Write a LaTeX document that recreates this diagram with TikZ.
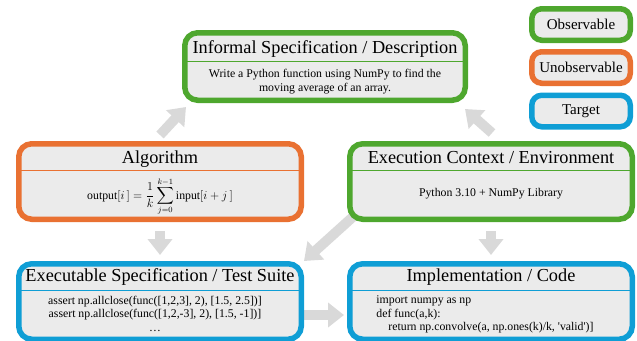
\documentclass[tikz,border=0pt]{standalone}
\usepackage{fontspec}
\setmainfont{Liberation Serif}
\usepackage{amsmath}
\usetikzlibrary{positioning,calc,arrows.meta,backgrounds}

\definecolor{obsgreen}{HTML}{4EA72E}
\definecolor{unobsorange}{HTML}{E97132}
\definecolor{tgtblue}{HTML}{0F9ED5}
\definecolor{boxfill}{HTML}{EBEBEB}
\definecolor{flowgrey}{HTML}{D9D9D9}

\tikzset{
  panel/.style={draw, fill=boxfill, line width=5.5pt, rounded corners=13pt,
    minimum width=282.5pt, minimum height=75.5pt, inner sep=0pt},
  legend/.style={panel, rounded corners=10pt, minimum width=98.5pt,
    minimum height=31.5pt, font=\fontsize{15}{18}\selectfont},
  obs/.style={draw=obsgreen},
  unobs/.style={draw=unobsorange},
  tgt/.style={draw=tgtblue},
  title/.style={anchor=base, inner sep=0pt, font=\fontsize{18.3}{22}\selectfont},
  body/.style={anchor=north, inner sep=0pt, align=center, font=\fontsize{11.8}{13.5}\selectfont},
  code/.style={body, anchor=north west, align=left},
  rule/.style={line width=1.5pt},
  flow/.style={draw=flowgrey, line width=10pt, -{Triangle[width=24pt,length=16pt]}},
}

\begin{document}
\begin{tikzpicture}[x=1pt, y=-1pt]
  \path[use as bounding box] (0,0) rectangle (637,340);

  \node[panel, obs, minimum width=280.5pt, minimum height=67.5pt] (inf) at (325,66.5) {};
  \node[panel, unobs] (alg) at (160,181.5) {};
  \node[panel, obs]   (exe) at (491,181.5) {};
  \node[panel, tgt]   (tst) at (160,301.5) {};
  \node[panel, tgt]   (imp) at (491,301.5) {};

  \node[legend, obs]   (lobs)   at (581,24.5) {Observable};
  \node[legend, unobs] (lunobs) at (581,67.5) {Unobservable};
  \node[legend, tgt]   (ltgt)   at (581,111)  {Target};

  \node[title] (inf-t) at ($(inf.north)+(0,23.3)$) {Informal Specification / Description};
  \node[title] (alg-t) at ($(alg.north)+(0,22.3)$) {Algorithm};
  \node[title] (exe-t) at ($(exe.north)+(0,22.3)$) {Execution Context / Environment};
  \node[title] (tst-t) at ($(tst.north)+(0,20.3)$) {Executable Specification / Test Suite};
  \node[title] (imp-t) at ($(imp.north)+(0,20.8)$) {Implementation / Code};

  \draw[rule, obsgreen]    ($(inf.north west)+(3.5,31.25)$) -- ($(inf.north east)+(-3.5,31.25)$);
  \draw[rule, unobsorange] ($(alg.north west)+(3.5,29.25)$) -- ($(alg.north east)+(-3.5,29.25)$);
  \draw[rule, obsgreen]    ($(exe.north west)+(3.5,29.25)$) -- ($(exe.north east)+(-3.5,29.25)$);
  \draw[rule, tgtblue]     ($(tst.north west)+(3.5,29.25)$) -- ($(tst.north east)+(-3.5,29.25)$);
  \draw[rule, tgtblue]     ($(imp.north west)+(3.5,29.25)$) -- ($(imp.north east)+(-3.5,29.25)$);

  \node[body] (inf-b) at ($(inf.north)+(0,39)$)
    {Write a Python function using NumPy to find the\\moving average of an array.};
  \node[body, anchor=center] (alg-b) at ($(alg.north)+(0,55.5)$)
    {$\displaystyle\text{output}[i\,] = \frac{1}{k}\sum_{j=0}^{k-1}\text{input}[i+j\,]$};
  \node[body, anchor=base] (exe-b) at ($(exe.north)+(0,55.75)$) {Python 3.10 + NumPy Library};
  \node[body] (tst-b) at ($(tst.north)+(-5,34.5)$)
    {assert np.allclose(func([1,2,3], 2), [1.5, 2.5])]\\
     assert np.allclose(func([1,2,-3], 2), [1.5, -1])]\\
     \dots};
  \node[code] (imp-b) at ($(imp.north west)+(29.25,34.5)$)
    {import numpy as np\\
     def func(a,k):\\
     \hspace*{12pt}return np.convolve(a, np.ones(k)/k, \textquotesingle valid\textquotesingle)]};

  \begin{scope}[on background layer]
    \draw[flow] ($(alg.north)+(0,-6)$) -- ($(inf.south west)+(4,4)$);
    \draw[flow] ($(exe.north)+(1,-8)$) -- ($(inf.south east)+(-3,6)$);
    \draw[flow, shorten <=9pt, shorten >=6pt] (alg.south) -- (tst.north);
    \draw[flow, shorten <=9pt, shorten >=6pt] (exe.south) -- (imp.north);
    \draw[flow] ($(exe.south west)+(8,-7)$) -- (tst.north east);
    \draw[flow, shorten >=3pt] ($(tst.east)+(0,13.5)$) -- ($(imp.west)+(0,13.5)$);
  \end{scope}
\end{tikzpicture}
\end{document}
